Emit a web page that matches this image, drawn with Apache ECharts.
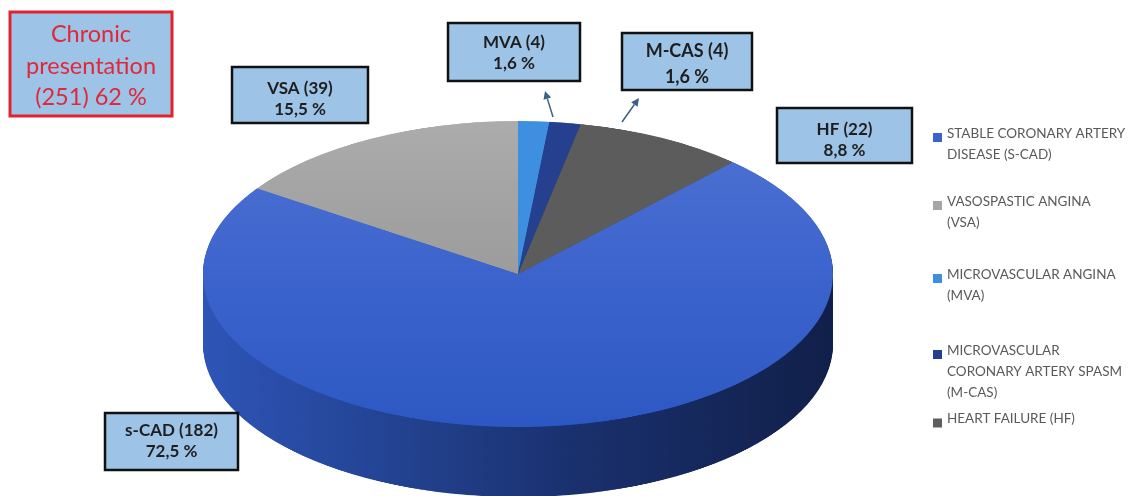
<!DOCTYPE html>
<html><head><meta charset="utf-8">
<script src="https://cdn.jsdelivr.net/npm/echarts@6/dist/echarts.min.js"></script>
<style>
html,body{margin:0;padding:0;background:#fff;}
#wrap{position:relative;width:1131px;height:496px;overflow:hidden;}
#pie{position:absolute;left:0;top:0;width:1131px;transform-origin:0 0;}
#ov{position:absolute;left:0;top:0;width:1131px;height:496px;}
</style></head><body>
<div id="wrap"><div id="pie"></div><div id="ov"></div></div>
<script>
// ---- data ----
const categories = ['STABLE CORONARY ARTERY DISEASE (S-CAD)', 'VASOSPASTIC ANGINA (VSA)', 'MICROVASCULAR ANGINA (MVA)', 'MICROVASCULAR CORONARY ARTERY SPASM (M-CAS)', 'HEART FAILURE (HF)'];
const legendLabels = ['STABLE CORONARY ARTERY\nDISEASE (S-CAD)', 'VASOSPASTIC ANGINA\n(VSA)', 'MICROVASCULAR ANGINA\n(MVA)', 'MICROVASCULAR\nCORONARY ARTERY SPASM\n(M-CAS)', 'HEART FAILURE (HF)'];
const shortNames = ['s-CAD', 'VSA', 'MVA', 'M-CAS', 'HF'];
const counts = [182, 39, 4, 4, 22];
const percents = ['72,5', '15,5', '1,6', '1,6', '8,8'];
const titleLines = ['Chronic', 'presentation', '(251) 62 %'];

// ---- styling / geometry ----
const CX = 518, CY = 274, RX = 315, RY = 153, DEPTH = 70;
const S = RY / RX;
const cyPre = CY / S;
const legendColors = ['#3a62cc', '#a5a5a5', '#3d8fe0', '#23408f', '#5e5e5e'];
const topColors = [
  {type:'linear', x:0, y:(CY-RY)/S, x2:0, y2:(CY+RY)/S, global:true,
   colorStops:[{offset:0,color:'#4e73d3'},{offset:0.5,color:'#3d64cd'},{offset:1,color:'#2d58c3'}]},
  {type:'linear', x:0, y:(CY-RY)/S, x2:0, y2:cyPre, global:true,
   colorStops:[{offset:0,color:'#acacac'},{offset:1,color:'#9c9c9c'}]},
  '#3e8fe0', '#24408f', '#5c5c5c'
];
const sideColors = [
  {type:'linear', x:CX-RX, y:0, x2:CX+RX, y2:0, global:true,
   colorStops:[{offset:0,color:'#2e55b7'},{offset:0.3,color:'#234392'},{offset:0.6,color:'#1a306d'},{offset:1,color:'#11204a'}]},
  '#7a7a7a', '#2b6cb0', '#182a69', '#3e3e3e'
];

const pieEl = document.getElementById('pie');
pieEl.style.height = (500 / S) + 'px';
pieEl.style.transform = 'scaleY(' + S + ')';

function pieData(colors) {
  return counts.map((v, i) => ({ value: v, name: categories[i], itemStyle: { color: colors[i] } }));
}
const total = counts.reduce((a, b) => a + b, 0);
const startAngle = 90 - 360 * (counts[2] + counts[3] + counts[4]) / total;

const pieSeries = [];
for (let d = DEPTH; d > 0; d -= 1.2) {
  pieSeries.push({
    type: 'pie', silent: true, animation: false, clockwise: true, startAngle,
    center: [CX, cyPre + d / S], radius: RX, label: { show: false }, labelLine: { show: false },
    emphasis: { disabled: true }, itemStyle: { borderWidth: 0 }, data: pieData(sideColors)
  });
}
pieSeries.push({
  type: 'pie', silent: true, animation: false, clockwise: true, startAngle,
  center: [CX, cyPre], radius: RX, label: { show: false }, labelLine: { show: false },
  emphasis: { disabled: true }, itemStyle: { borderWidth: 0 }, data: pieData(topColors)
});
const pieChart = echarts.init(pieEl, null, { renderer: 'canvas' });
pieChart.setOption({ animation: false, series: pieSeries });

// ---- overlay: legend, label boxes, arrows ----
const legendCenters = [132, 200, 273, 349, 418];
const LH = 21;
const legends = legendLabels.map((lab, i) => {
  const n = lab.split('\n').length;
  const iconC = legendCenters[i] + 4;
  const E = n > 1 ? (n - 1) * LH - 8 : 8;
  const textH = n * LH + E;
  return {
    data: [lab], orient: 'vertical', left: 933, top: iconC - textH / 2 + E / 2 + 0.5,
    padding: 0, itemWidth: 9, itemHeight: 9, icon: 'rect', selectedMode: false, itemGap: 5,
    formatter: name => {
      const body = name.split('\n').map(l => '{t|' + l + '}').join('\n');
      return n > 1 ? '{e| }\n' + body : body + '\n{e| }';
    },
    textStyle: {
      color: '#595959',
      rich: {
        t: { fontFamily: 'Lato', fontSize: 13.5, color: '#595959', lineHeight: LH },
        e: { fontSize: 2, lineHeight: E }
      }
    }
  };
});

const boxes = [
  { i: 0, x: 105, y: 413, w: 133, h: 57, ty: 441.5, fs: 17, lh: 21 },
  { i: 1, x: 232, y: 67, w: 136, h: 56, ty: 99.5, fs: 17, lh: 21 },
  { i: 2, x: 448, y: 23, w: 132, h: 58, ty: 53, fs: 17, lh: 21 },
  { i: 3, x: 622, y: 33, w: 130, h: 57, ty: 64, fs: 18, lh: 26 },
  { i: 4, x: 777, y: 108, w: 135, h: 55, ty: 140, fs: 17, lh: 21 }
];
const graphics = [];
boxes.forEach(b => {
  graphics.push({ type: 'rect', shape: { x: b.x, y: b.y, width: b.w, height: b.h },
    style: { fill: '#9dc3e6', stroke: '#111111', lineWidth: 2.5 } });
  graphics.push({ type: 'text', style: {
    text: shortNames[b.i] + ' (' + counts[b.i] + ')\n' + percents[b.i] + ' %',
    x: b.x + b.w / 2, y: b.ty, align: 'center', verticalAlign: 'middle',
    font: 'bold ' + b.fs + 'px Lato', lineHeight: b.lh, fill: '#1e1e1e' } });
});
// title box
graphics.push({ type: 'rect', shape: { x: 10, y: 12, width: 162, height: 104 },
  style: { fill: '#9dc3e6', stroke: '#e0242f', lineWidth: 3 } });
graphics.push({ type: 'text', style: { text: titleLines.join('\n'), x: 91, y: 66,
  align: 'center', verticalAlign: 'middle', font: '23.5px Lato', lineHeight: 31.5, fill: '#e0283a' } });

function arrow(x1, y1, x2, y2) {
  const a = Math.atan2(y2 - y1, x2 - x1), L = 8, W = 4;
  const bx = x2 - L * Math.cos(a), by = y2 - L * Math.sin(a);
  graphics.push({ type: 'line', shape: { x1, y1, x2: bx, y2: by }, style: { stroke: '#3b6185', lineWidth: 1.5 } });
  graphics.push({ type: 'polygon', shape: { points: [[x2, y2],
    [bx + W * Math.sin(a), by - W * Math.cos(a)], [bx - W * Math.sin(a), by + W * Math.cos(a)]] },
    style: { fill: '#3b6185' } });
}
arrow(553, 117, 545, 91);
arrow(622, 122, 639, 98);

const ov = echarts.init(document.getElementById('ov'));
ov.setOption({
  animation: false,
  legend: legends,
  series: [{
    type: 'pie', silent: true, center: [-200, -200], radius: [0, 0], label: { show: false },
    data: counts.map((v, i) => ({ value: v, name: legendLabels[i], itemStyle: { color: legendColors[i] } }))
  }],
  graphic: graphics
});
</script></body></html>
